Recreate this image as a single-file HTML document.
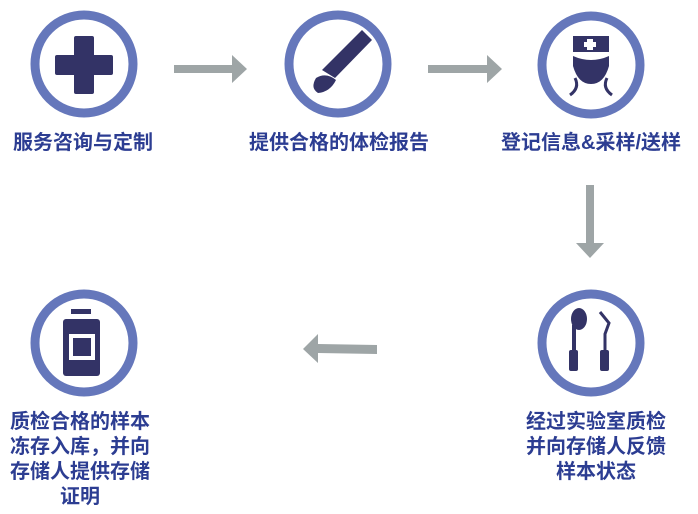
<!DOCTYPE html>
<html><head><meta charset="utf-8"><style>
body{margin:0;width:698px;height:514px;background:#fff;overflow:hidden;position:relative;font-family:"Liberation Sans","Noto Sans CJK SC",sans-serif}
.t{position:absolute;color:#2c3d92;font-weight:bold;font-size:20px;text-align:center;line-height:25px;white-space:nowrap}
</style></head><body>
<svg width="698" height="514" style="position:absolute;left:0;top:0">
<g fill="none" stroke="#6577bb" stroke-width="9">
<circle cx="84" cy="64" r="49"/>
<circle cx="338" cy="64" r="49"/>
<circle cx="591" cy="65" r="49"/>
<circle cx="84" cy="343" r="49"/>
<circle cx="591" cy="343" r="49"/>
</g>
<g fill="#9ea5a6">
<polygon points="174,65 232,65 232,55 247,69 232,83 232,73 174,73"/>
<polygon points="428,65 487,65 487,55 502,69 487,83 487,73 428,73"/>
<polygon points="586,185 594,185 594,243 604,243 590,258 576,243 586,243"/>
<polygon points="377,345 318,344 318,334 303,349 318,363 318,353 377,354"/>
</g>
<g fill="#333366">
<rect x="74" y="36" width="20" height="58" rx="2"/>
<rect x="55" y="55" width="58" height="20" rx="2"/>
<polygon points="362,30 372,40 335,78 322,70"/>
<path d="M316,78 Q326,72 336,80 Q330,92 318,93 Q310,88 316,78Z"/>
<rect x="573" y="36" width="36" height="16"/>
<path d="M573,56 L609,56 L609,66 Q604,84 591,84 Q578,84 573,66Z"/>
<path d="M575,78 Q580,88 570,95" stroke="#333366" stroke-width="3" fill="none"/>
<path d="M607,78 Q602,88 612,95" stroke="#333366" stroke-width="3" fill="none"/>
<rect x="71" y="309" width="20" height="5"/>
<rect x="63" y="319" width="37" height="57" rx="3"/>
<ellipse cx="579" cy="319" rx="8" ry="11"/>
<rect x="572" y="325" width="4" height="25"/>
<rect x="569" y="350" width="9" height="21" rx="2"/>
<path d="M600,312 L609,323 L605,334 L605,350" stroke="#333366" stroke-width="3" fill="none"/>
<rect x="600" y="350" width="9" height="21" rx="2"/>
</g>
<g fill="#fff">
<rect x="587" y="39" width="6" height="11"/><rect x="584" y="42" width="12" height="5"/>
<path d="M573,52 Q591,60 609,52 L609,56 Q591,64 573,56Z"/>
<rect x="69" y="334" width="26" height="26"/>
</g>
<rect x="73" y="338" width="18" height="18" fill="#333366"/>
</svg>
<div class="t" style="left:3px;top:131px;width:160px">服务咨询与定制</div>
<div class="t" style="left:239px;top:131px;width:200px">提供合格的体检报告</div>
<div class="t" style="left:491px;top:131px;width:200px">登记信息&amp;采样/送样</div>
<div class="t" style="left:0px;top:410px;width:160px">质检合格的样本<br>冻存入库，并向<br>存储人提供存储<br>证明</div>
<div class="t" style="left:516px;top:410px;width:160px">经过实验室质检<br>并向存储人反馈<br>样本状态</div>
</body></html>
